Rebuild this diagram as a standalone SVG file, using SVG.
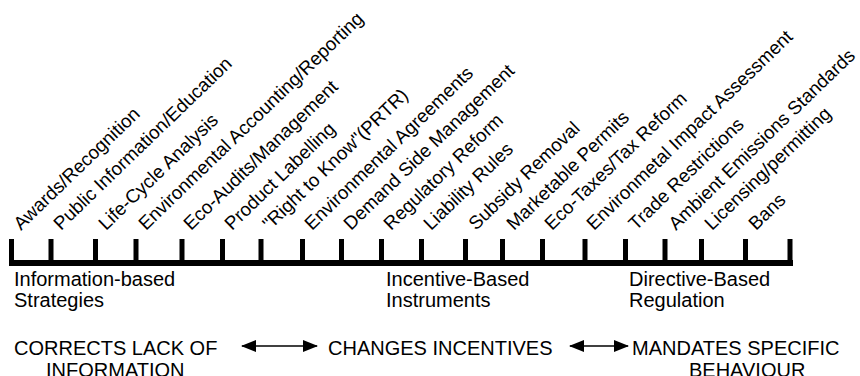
<svg xmlns="http://www.w3.org/2000/svg" width="860" height="376" viewBox="0 0 860 376">
<defs>
<style>
text { font-family: "Liberation Sans", Arial, sans-serif; fill: #000; }
.lab { font-size: 18.8px; }
.cat { font-size: 20px; }
.axis { fill: #000; }
.conn { stroke: #000; stroke-width: 1.5; fill: none; }
</style>
<marker id="ah" viewBox="0 0 15 12" refX="14" refY="6" markerWidth="15" markerHeight="12" markerUnits="userSpaceOnUse" orient="auto-start-reverse">
<path d="M0,0 L15,6 L0,12 Z" fill="#000"/>
</marker>
</defs>
<rect width="860" height="376" fill="#fff"/>
<g id="axis" class="axis">
<rect x="9" y="260" width="784" height="6"/>
<rect x="9" y="239" width="5" height="24"/>
<rect x="48.5" y="239" width="5" height="24"/>
<rect x="93" y="239" width="5" height="24"/>
<rect x="133.5" y="239" width="5" height="24"/>
<rect x="179.5" y="239" width="5" height="24"/>
<rect x="220" y="239" width="5" height="24"/>
<rect x="258.5" y="239" width="5" height="24"/>
<rect x="300" y="239" width="5" height="24"/>
<rect x="339" y="239" width="5" height="24"/>
<rect x="379" y="239" width="5" height="24"/>
<rect x="419" y="239" width="5" height="24"/>
<rect x="463" y="239" width="5" height="24"/>
<rect x="500" y="239" width="5" height="24"/>
<rect x="540" y="239" width="5" height="24"/>
<rect x="582.5" y="239" width="5" height="24"/>
<rect x="623" y="239" width="5" height="24"/>
<rect x="662.5" y="239" width="5" height="24"/>
<rect x="699" y="239" width="5" height="24"/>
<rect x="743" y="239" width="5" height="24"/>
<rect x="787.5" y="239" width="5" height="24"/>
</g>
<g id="labels">
<g id="l0"><text class="lab" x="21" y="231" transform="rotate(-44 21 231)">Awards/Recognition</text></g>
<g id="l1"><text class="lab" x="61" y="231" transform="rotate(-44 61 231)">Public Information/Education</text></g>
<g id="l2"><text class="lab" x="106" y="231" transform="rotate(-44 106 231)">Life-Cycle Analysis</text></g>
<g id="l3"><text class="lab" x="146" y="231" transform="rotate(-44 146 231)">Environmental Accounting/Reporting</text></g>
<g id="l4"><text class="lab" x="191" y="231" transform="rotate(-44 191 231)">Eco-Audits/Management</text></g>
<g id="l5"><text class="lab" x="232" y="231" transform="rotate(-44 232 231)">Product Labelling</text></g>
<g id="l6"><text class="lab" x="270" y="231" transform="rotate(-44 270 231)">"Right to Know"(PRTR)</text></g>
<g id="l7"><text class="lab" x="312" y="231" transform="rotate(-44 312 231)">Environmental Agreements</text></g>
<g id="l8"><text class="lab" x="351" y="231" transform="rotate(-44 351 231)">Demand Side Management</text></g>
<g id="l9"><text class="lab" x="391" y="231" transform="rotate(-44 391 231)">Regulatory Reform</text></g>
<g id="l10"><text class="lab" x="431" y="231" transform="rotate(-44 431 231)">Liability Rules</text></g>
<g id="l11"><text class="lab" x="476" y="231" transform="rotate(-44 476 231)">Subsidy Removal</text></g>
<g id="l12"><text class="lab" x="514" y="231" transform="rotate(-44 514 231)">Marketable Permits</text></g>
<g id="l13"><text class="lab" x="552" y="231" transform="rotate(-44 552 231)">Eco-Taxes/Tax Reform</text></g>
<g id="l14"><text class="lab" x="594" y="231" transform="rotate(-44 594 231)">Environmetal Impact Assessment</text></g>
<g id="l15"><text class="lab" x="636" y="231" transform="rotate(-44 636 231)">Trade Restrictions</text></g>
<g id="l16"><text class="lab" x="676" y="231" transform="rotate(-44 676 231)">Ambient Emissions Standards</text></g>
<g id="l17"><text class="lab" x="712" y="231" transform="rotate(-44 712 231)">Licensing/permitting</text></g>
<g id="l18"><text class="lab" x="756" y="231" transform="rotate(-44 756 231)">Bans</text></g>
</g>
<g id="cat-info"><text class="cat" x="14" y="286">Information-based</text><text class="cat" x="14" y="307">Strategies</text></g>
<g id="cat-incentive"><text class="cat" x="386" y="286">Incentive-Based</text><text class="cat" x="386" y="307">Instruments</text></g>
<g id="cat-directive"><text class="cat" x="629" y="286">Directive-Based</text><text class="cat" x="629" y="307">Regulation</text></g>
<g id="n-corrects"><text class="cat" x="14" y="355">CORRECTS LACK OF</text><text class="cat" x="46" y="377">INFORMATION</text></g>
<g id="n-changes"><text class="cat" x="328" y="355">CHANGES INCENTIVES</text></g>
<g id="n-mandates"><text class="cat" x="632" y="355">MANDATES SPECIFIC</text><text class="cat" x="689" y="377">BEHAVIOUR</text></g>
<g id="connectors">
<line class="conn" x1="242" y1="346" x2="317" y2="346" marker-start="url(#ah)" marker-end="url(#ah)"/>
<line class="conn" x1="570" y1="346" x2="628" y2="346" marker-start="url(#ah)" marker-end="url(#ah)"/>
</g>
</svg>
